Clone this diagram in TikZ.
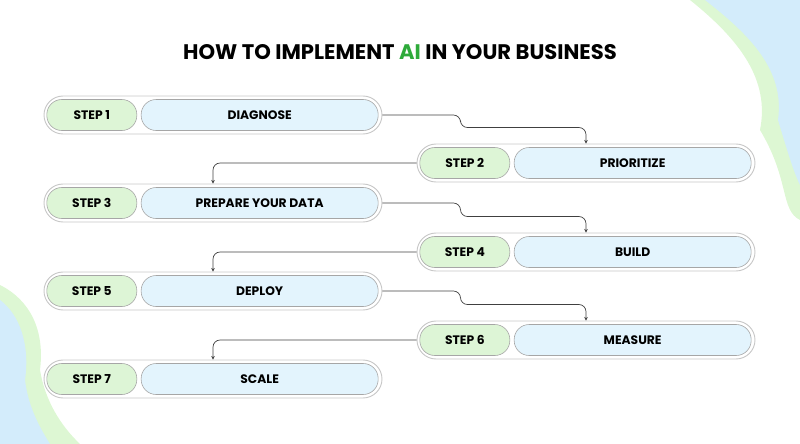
\documentclass[tikz,border=0pt]{standalone}
\usepackage{fontspec}
\setmainfont{Poppins}
\usetikzlibrary{positioning,arrows.meta,calc}
\definecolor{stepgreen}{HTML}{DDF5D6}
\definecolor{stepblue}{HTML}{E3F4FD}
\definecolor{rimgray}{HTML}{C8C8C8}
\definecolor{blobblue}{HTML}{D3ECFB}
\definecolor{blobgreen}{HTML}{DDF7D3}
\definecolor{aigreen}{HTML}{2EAA3A}
\tikzset{
  outer/.style={draw=rimgray,line width=0.8pt,fill=white,rounded corners=19*0.03cm,minimum width=338*0.03cm,minimum height=38*0.03cm},
  tag/.style={draw=gray!70,line width=0.5pt,fill=stepgreen,rounded corners=15*0.03cm,minimum width=90*0.03cm,minimum height=31*0.03cm,font=\bfseries\fontsize{10.5}{12}\selectfont},
  task/.style={draw=gray!70,line width=0.5pt,fill=stepblue,rounded corners=15*0.03cm,minimum width=237*0.03cm,minimum height=31*0.03cm,font=\bfseries\fontsize{10.5}{12}\selectfont},
  link/.style={draw=black!75,line width=0.6pt,rounded corners=6pt,-{Stealth[length=3pt,width=3pt]}}
}
\begin{document}
\begin{tikzpicture}[x=0.03cm,y=-0.03cm]
  \useasboundingbox (0,0) rectangle (800,444);
  % background blobs
  \fill[blobgreen] (690,0) .. controls (740,40) and (770,80) .. (760,130) .. controls (790,180) and (780,210) .. (800,220) -- (800,0) -- cycle;
  \fill[blobblue] (705,0) .. controls (750,35) and (785,70) .. (778,120) .. controls (790,160) and (795,175) .. (800,185) -- (800,0) -- cycle;
  \fill[blobgreen] (0,285) .. controls (30,300) and (45,330) .. (40,370) .. controls (45,400) and (60,425) .. (80,444) -- (0,444) -- cycle;
  \fill[blobblue] (0,300) .. controls (20,315) and (30,345) .. (25,380) .. controls (28,405) and (38,425) .. (50,444) -- (0,444) -- cycle;
  % title
  \node (title) at (400,52) {\bfseries\fontsize{18}{22}\selectfont HOW TO IMPLEMENT {\color{aigreen}AI} IN YOUR BUSINESS};
  % rows
  \foreach \i/\xo/\yo/\txt in {1/213/115/DIAGNOSE, 2/586/163/PRIORITIZE, 3/213/203/PREPARE YOUR DATA,
      4/586/252/BUILD, 5/213/291/DEPLOY, 6/586/340/MEASURE, 7/213/379/SCALE}{
    \node[outer] (row\i) at (\xo,\yo) {};
    \node[tag,right=3*0.03cm of row\i.west] (step\i) {STEP \i};
    \node[task,left=4*0.03cm of row\i.east] (task\i) {\txt};
  }
  % connectors
  \foreach \a/\b in {1/2,3/4,5/6}{
    \draw[link] (row\a.east) -- ++(78,0) |- ([yshift=16*0.03cm]row\b.north) -- (row\b.north);
  }
  \foreach \a/\b in {2/3,4/5,6/7}{
    \draw[link] (row\a.west) -| (row\b.north);
  }
\end{tikzpicture}
\end{document}
